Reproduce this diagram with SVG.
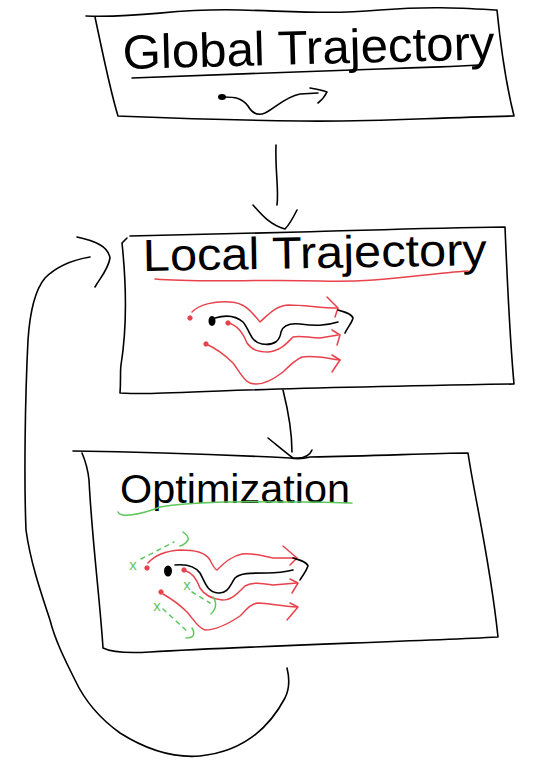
<svg xmlns="http://www.w3.org/2000/svg" width="536" height="771" viewBox="0 0 536 771">
<style>
.ink{fill:none;stroke:#000;stroke-width:1.6;stroke-linecap:round;stroke-linejoin:round}
.red{fill:none;stroke:#e8424c;stroke-width:1.5;stroke-linecap:round;stroke-linejoin:round}
.grn{fill:none;stroke:#5dc75d;stroke-width:1.5;stroke-linecap:round;stroke-linejoin:round}
.dash{stroke-dasharray:4 5}
.rdot{fill:#e8424c;stroke:#e8424c;stroke-width:1}
.title{font-family:"Liberation Sans",Arial,sans-serif;fill:#000}
.gx{font-family:"Liberation Sans",Arial,sans-serif;font-size:15px;fill:#5dc75d;text-anchor:middle}
</style>
<rect width="536" height="771" fill="#fff"/>

<g id="node-global">
<path class="ink" d="M86,16 C150,18 170,8 240,10 S330,14 380,10 S460,8 497,10 C500,40 505,80 514,116 C420,118 380,122 300,121 S170,118 118,116 C110,90 102,50 95,17"/>
<text class="title" x="123" y="64" font-size="48" textLength="372" lengthAdjust="spacingAndGlyphs" transform="rotate(-1.5 310 64)">Global Trajectory</text>
<path class="ink" d="M132,78 C200,75 300,72 380,69 S450,67 479,65"/>
<ellipse cx="222" cy="97" rx="4" ry="3" fill="#000"/>
<path class="ink" d="M224,97 C235,97 242,98 248,106 C252,113 258,116 265,113 C275,108 285,97 300,94 L318,93"/>
<path class="ink" d="M310,88 C316,89 322,90 327,92 C325,96 322,100 318,103"/>
</g>

<g id="node-local">
<path class="ink" d="M130,236 C200,234 250,233 300,232 S420,228 505,227 C508,300 510,340 514,384 C400,386 300,388 220,391 S140,394 120,393 C121,380 120,372 121,365 C125,340 128,300 122,243 L127,238"/>
<text class="title" x="143" y="268" font-size="45" textLength="344" lengthAdjust="spacingAndGlyphs" transform="rotate(-1 315 268)">Local Trajectory</text>
<path class="red" d="M155,279 C200,283 260,279 320,281 S420,274 468,271"/>
<path class="red" d="M192,312 C200,304 215,301 230,302 C245,303 250,310 260,322 C268,315 275,306 288,305 C305,305 320,308 337,308"/>
<path class="red" d="M327,297 L338,308 L335,317"/>
<path class="ink" d="M215,318 C225,315 235,315 243,322 C250,330 250,342 262,344 C275,346 280,340 281,332 C283,325 290,323 300,324 C315,326 325,326 338,322"/>
<path class="ink" d="M338,310 C345,312 352,314 353,318 C352,323 347,328 345,333"/>
<path class="red" d="M228,323 C238,325 243,333 247,343 C252,350 258,352 268,352 C280,351 285,345 293,337 C300,335 310,338 320,338 L338,335"/>
<path class="red" d="M332,330 L340,335 L337,345"/>
<path class="red" d="M206,344 C215,348 225,355 233,363 C240,372 243,380 250,383 C258,386 270,382 283,372 C290,365 295,360 302,357 C315,355 325,358 340,360"/>
<path class="red" d="M332,355 L340,360 L332,372"/>
<circle class="rdot" cx="190" cy="318" r="2.2"/>
<circle class="rdot" cx="228" cy="323" r="2.2"/>
<circle class="rdot" cx="206" cy="344" r="2.2"/>
<ellipse cx="212" cy="321" rx="3.5" ry="5" fill="#000"/>
</g>

<g id="node-optimization">
<path class="ink" d="M73,451 C150,452 230,455 290,458 Q300,460 310,457 C380,456 430,453 468,453 C475,500 490,560 498,637 C400,642 250,646 150,652 Q115,654 103,648 C100,600 92,540 89,480 C88,470 85,460 82,453"/>
<text class="title" x="120" y="503" font-size="40" textLength="230" lengthAdjust="spacingAndGlyphs">Optimization</text>
<path class="grn" d="M118,512 C120,518 140,515 160,507 C200,500 260,502 300,502 S340,503 352,503"/>
<path class="red" d="M148,563 C155,555 165,551 180,550 C195,550 205,552 210,560 C213,566 215,570 217,570 C225,562 232,556 242,554 C255,553 262,556 273,558 L297,558"/>
<path class="red" d="M283,546 L297,558 L290,565"/>
<path class="ink" d="M175,565 C185,564 195,566 200,573 C205,582 207,592 218,593 C228,594 230,585 235,578 C240,573 250,573 267,573 C278,573 285,572 293,570"/>
<path class="ink" d="M293,558 C300,560 307,562 308,566 C306,572 302,576 300,580"/>
<path class="red" d="M186,571 C193,573 197,580 200,588 C205,596 212,599 222,600 C232,600 238,593 245,586 C252,582 260,583 273,585 L297,583"/>
<path class="red" d="M290,579 L298,583 L292,593"/>
<path class="red" d="M163,594 C170,598 180,605 187,612 C194,620 198,628 205,630 C215,630 228,624 240,616 C246,610 250,604 258,603 C268,603 280,606 297,607"/>
<path class="red" d="M290,603 L298,607 L287,620"/>
<circle class="rdot" cx="147" cy="568" r="2.2"/>
<circle class="rdot" cx="184" cy="570" r="2.2"/>
<circle class="rdot" cx="161" cy="592" r="2.2"/>
<ellipse cx="168" cy="571" rx="4" ry="5.5" fill="#000"/>
<text class="gx" x="133" y="570">x</text>
<path class="grn dash" d="M141,559 L174,542"/>
<path class="grn" d="M183,532 C187,535 189,538 188,540 C186,543 184,545 180,546"/>
<text class="gx" x="187" y="590">x</text>
<path class="grn dash" d="M192,592 L210,603"/>
<path class="grn" d="M213,597 C216,601 216,605 215,608 C214,611 213,612 211,614"/>
<text class="gx" x="157" y="611">x</text>
<path class="grn dash" d="M163,609 L188,632"/>
<path class="grn" d="M192,628 C194,631 194,634 193,636 C191,638 189,638 186,638"/>
</g>

<g id="connectors">
<path class="ink" d="M276,145 C275,170 279,190 277,205"/>
<path class="ink" d="M253,205 C262,215 270,225 285,229 M297,210 C292,220 290,224 285,229"/>
<path class="ink" d="M283,390 C288,410 292,430 292,452"/>
<path class="ink" d="M268,438 C278,446 285,452 293,458 M312,450 C310,455 305,459 293,458"/>
<path class="ink" d="M287,668 C290,680 289,690 285,698 C268,730 240,752 200,756 C175,758 150,752 120,733 C95,715 82,695 75,680 C65,660 55,640 50,620 C40,590 30,560 26,530 C24,480 25,400 28,340 C30,310 35,290 45,278 C57,266 72,260 90,257"/>
<path class="ink" d="M77,237 C95,241 108,246 110,258 C108,270 100,278 95,287"/>
</g>
</svg>
